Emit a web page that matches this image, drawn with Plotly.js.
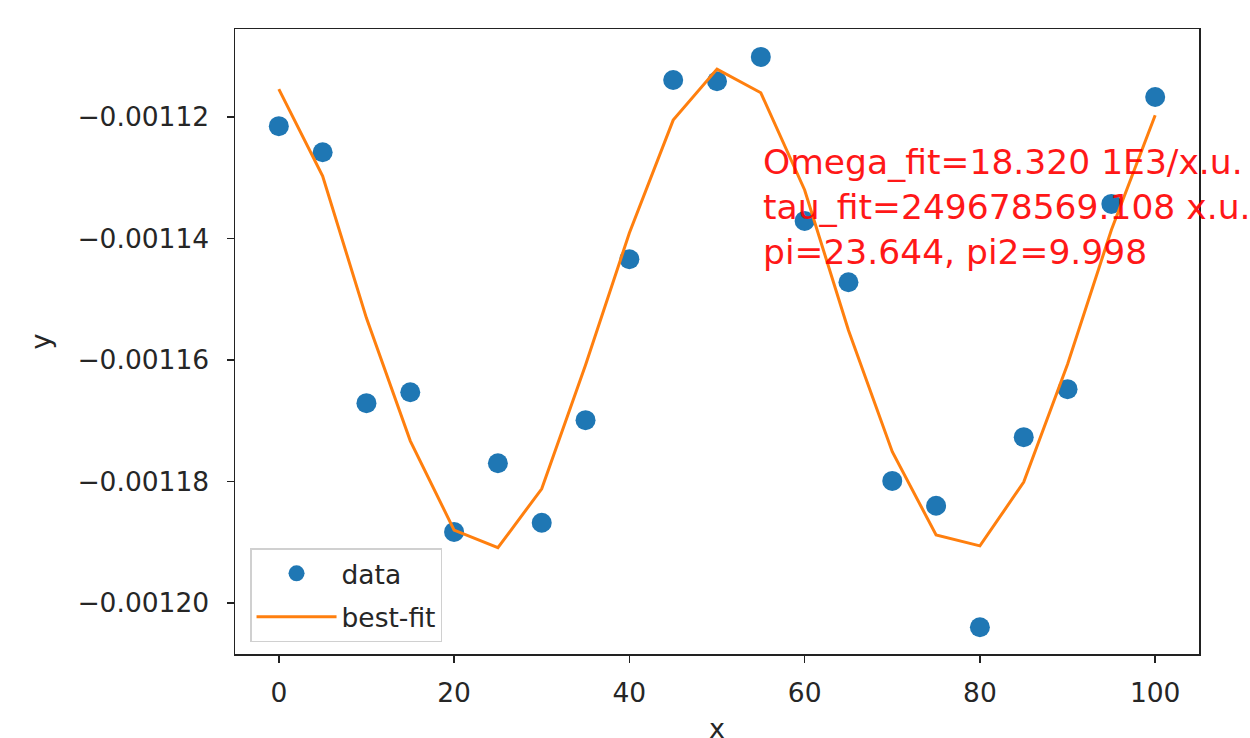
<!DOCTYPE html>
<html>
<head>
<meta charset="utf-8">
<script src="https://cdn.plot.ly/plotly-3.0.1.min.js"></script>
<style>
  html, body { margin: 0; padding: 0; background: #fff; }
  #chart { width: 1250px; height: 738px; }
</style>
</head>
<body>
<div id="chart"></div>
<script>
// x positions of the measurements
const xValues = [0, 5, 10, 15, 20, 25, 30, 35, 40, 45, 50, 55, 60, 65, 70, 75, 80, 85, 90, 95, 100];
// measured data (blue dots)
const dataY = [-0.0011215, -0.0011258, -0.0011671, -0.0011653, -0.0011883, -0.0011770, -0.0011868,
               -0.0011699, -0.0011434, -0.0011139, -0.0011141, -0.0011101, -0.0011371, -0.0011472,
               -0.0011799, -0.0011840, -0.0012040, -0.0011727, -0.0011648, -0.0011343, -0.0011167];
// best-fit curve (orange line)
const fitY = [-0.0011154, -0.0011297, -0.0011531, -0.0011733, -0.0011880, -0.0011909, -0.0011812,
              -0.0011608, -0.0011391, -0.0011205, -0.0011121, -0.0011160, -0.0011320, -0.0011551,
              -0.0011751, -0.0011888, -0.0011906, -0.0011801, -0.0011607, -0.0011386, -0.0011197];
const xTicks = [0, 20, 40, 60, 80, 100];
const yTicks = [-0.00120, -0.00118, -0.00116, -0.00114, -0.00112];
const seriesNames = ["data", "best-fit"];
const xTitle = "x";
const yTitle = "y";
const annotationLines = ["Omega_fit=18.320 1E3/x.u.", "tau_fit=249678569.108 x.u.", "pi=23.644, pi2=9.998"];

const FONT = "DejaVu Sans, Liberation Sans, sans-serif";
const TXT = "#262626";

const traces = [
  {
    x: xValues, y: dataY, type: "scatter", mode: "markers", name: seriesNames[0],
    marker: { color: "#1f77b4", size: 20 }, cliponaxis: false, legendgroup: "a"
  },
  {
    x: xValues, y: fitY, type: "scatter", mode: "lines", name: seriesNames[1],
    line: { color: "#ff7f0e", width: 3 }, legendgroup: "b"
  }
];

const axisCommon = {
  showgrid: false, zeroline: false,
  showline: true, mirror: true, linecolor: "#222", linewidth: 1.5,
  ticks: "outside", ticklen: 7, tickwidth: 1.5, tickcolor: "#222",
  tickfont: { family: FONT, size: 26.5, color: TXT }
};

const layout = {
  width: 1250, height: 738,
  paper_bgcolor: "#fff", plot_bgcolor: "#fff",
  margin: { l: 235, r: 51, t: 29, b: 84, pad: 0 },
  font: { family: FONT, color: TXT },
  xaxis: Object.assign({}, axisCommon, {
    range: [-5, 105], tickvals: xTicks, ticktext: xTicks.map(String),
    ticklabelstandoff: 8
  }),
  yaxis: Object.assign({}, axisCommon, {
    range: [-0.0012084, -0.0011055], tickvals: yTicks,
    ticktext: yTicks.map(v => "\u2212" + Math.abs(v).toFixed(5)),
    ticklabelstandoff: 12,
    title: { text: yTitle, font: { family: FONT, size: 27, color: TXT }, standoff: 19 }
  }),
  showlegend: true,
  legend: {
    x: 0.0156, y: 0.019, xanchor: "left", yanchor: "bottom",
    bgcolor: "rgba(255,255,255,0.8)", bordercolor: "#d0d0d0", borderwidth: 1.5,
    font: { family: FONT, size: 26.5, color: TXT },
    itemwidth: 80, tracegroupgap: 6, entrywidth: 132
  },
  annotations: [
    {
      xref: "x", yref: "y", x: 55, y: -0.0011238,
      xanchor: "left", yanchor: "top", align: "left", showarrow: false,
      text: annotationLines.join("<br>"),
      font: { family: FONT, size: 34.5, color: "#ff0000" },
      opacity: 0.9
    },
    {
      xref: "paper", yref: "paper", x: 0.5, y: 0,
      xanchor: "center", yanchor: "top", yshift: -57, showarrow: false,
      text: xTitle,
      font: { family: FONT, size: 27, color: TXT }
    }
  ]
};

Plotly.newPlot("chart", traces, layout, { displayModeBar: false, staticPlot: true });
</script>
</body>
</html>
